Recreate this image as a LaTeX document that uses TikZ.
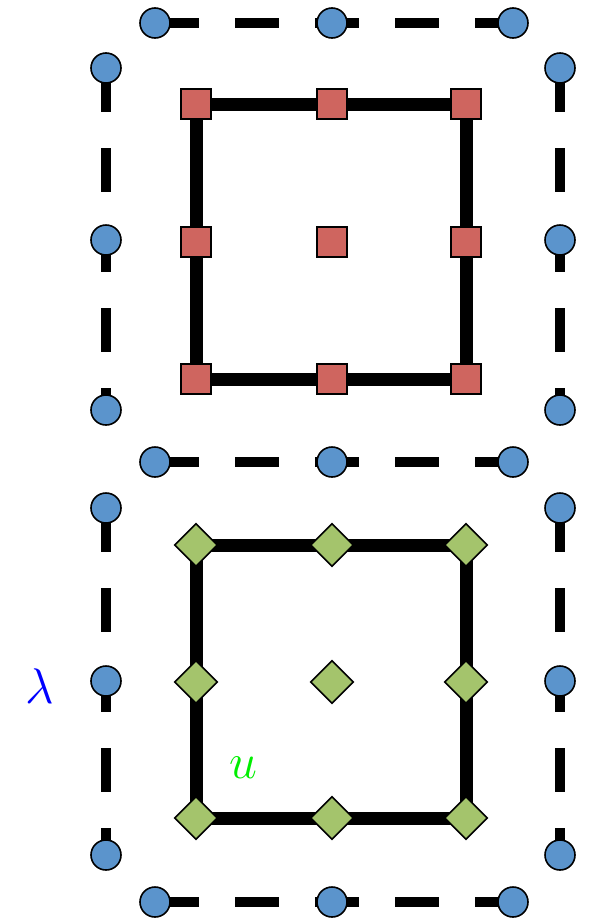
\RequirePackage{fix-cm}
\documentclass[tikz,border=0pt]{standalone}
\usetikzlibrary{shapes.geometric,backgrounds}
\definecolor{cblue}{HTML}{5B94CC}
\definecolor{cred}{HTML}{CF655F}
\definecolor{cgreen}{HTML}{A4C46C}
\definecolor{lgreen}{HTML}{00EE00}
\begin{document}
\begin{tikzpicture}[x=1pt,y=-1pt,
  circ/.style={circle,draw=black,line width=1.6pt,fill=cblue,minimum size=30pt,inner sep=0pt},
  sq/.style={rectangle,draw=black,line width=1.6pt,fill=cred,minimum size=30pt,inner sep=0pt},
  dia/.style={diamond,draw=black,line width=1.6pt,fill=cgreen,minimum size=43pt,inner sep=0pt},
  dline/.style={line width=10pt,dash pattern=on 44pt off 36pt},
  sline/.style={line width=13pt},
  lab/.style={inner sep=0pt,font=\fontsize{50}{50}\selectfont}]
\useasboundingbox (0,0) rectangle (595,919);
% upper dashed frame circles
\node[circ] (t1) at (155,23) {};
\node[circ] (t2) at (332,23) {};
\node[circ] (t3) at (513,23) {};
\node[circ] (l1) at (106,68) {};
\node[circ] (l2) at (106,240) {};
\node[circ] (l3) at (106,410) {};
\node[circ] (r1) at (560,68) {};
\node[circ] (r2) at (560,240) {};
\node[circ] (r3) at (560,410) {};
\node[circ] (b1) at (155,462) {};
\node[circ] (b2) at (332,462) {};
\node[circ] (b3) at (513,462) {};
% lower dashed frame circles
\node[circ] (L1) at (106,508) {};
\node[circ] (L2) at (106,681) {};
\node[circ] (L3) at (106,855) {};
\node[circ] (R1) at (560,508) {};
\node[circ] (R2) at (560,681) {};
\node[circ] (R3) at (560,855) {};
\node[circ] (B1) at (155,902) {};
\node[circ] (B2) at (332,902) {};
\node[circ] (B3) at (513,902) {};
% red squares
\node[sq] (s11) at (196,104) {};
\node[sq] (s12) at (332,104) {};
\node[sq] (s13) at (466,104) {};
\node[sq] (s21) at (196,242) {};
\node[sq] (s22) at (332,242) {};
\node[sq] (s23) at (466,242) {};
\node[sq] (s31) at (196,379) {};
\node[sq] (s32) at (332,379) {};
\node[sq] (s33) at (466,379) {};
% green diamonds
\node[dia] (d11) at (196,545) {};
\node[dia] (d12) at (332,545) {};
\node[dia] (d13) at (466,545) {};
\node[dia] (d21) at (196,682) {};
\node[dia] (d22) at (332,682) {};
\node[dia] (d23) at (466,682) {};
\node[dia] (d31) at (196,818) {};
\node[dia] (d32) at (332,818) {};
\node[dia] (d33) at (466,818) {};
% labels
\node[lab,text=blue] (lam) at (40,686) {$\lambda$};
\node[lab,text=lgreen] (u) at (243,768) {$u$};
\begin{pgfonlayer}{background}
\draw[dline] (t1.center) -- (t2.center) -- (t3.center);
\draw[dline] (l1.center) -- (l2.center) -- (l3.center);
\draw[dline] (r1.center) -- (r2.center) -- (r3.center);
\draw[dline] (b1.center) -- (b2.center) -- (b3.center);
\draw[dline] (L1.center) -- (L2.center) -- (L3.center);
\draw[dline] (R1.center) -- (R2.center) -- (R3.center);
\draw[dline] (B1.center) -- (B2.center) -- (B3.center);
\draw[sline] (s11.center) -- (s12.center) -- (s13.center) -- (s23.center) -- (s33.center) -- (s32.center) -- (s31.center) -- (s21.center) -- cycle;
\draw[sline] (d11.center) -- (d12.center) -- (d13.center) -- (d23.center) -- (d33.center) -- (d32.center) -- (d31.center) -- (d21.center) -- cycle;
\end{pgfonlayer}
\end{tikzpicture}
\end{document}
